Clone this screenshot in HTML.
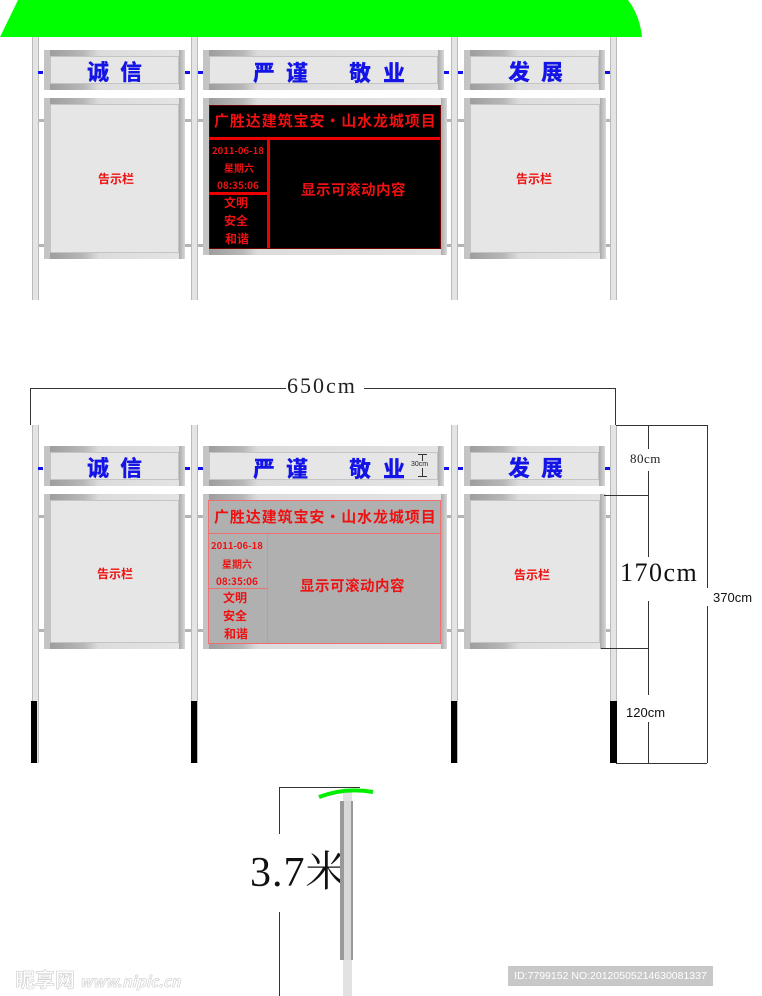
<!DOCTYPE html>
<html><head><meta charset="utf-8"><style>
*{margin:0;padding:0;box-sizing:border-box}
body{width:762px;height:996px;background:#fff;position:relative;overflow:hidden;font-family:"Liberation Sans","Noto Sans CJK SC",sans-serif}
.a{position:absolute}
.post{position:absolute;width:7px;background:#e4e4e4;border-left:1px solid #bbb;border-right:1px solid #bbb}
.rail{position:absolute;height:3px;background:#b4b4b4}
.dash{position:absolute;height:3px;width:5px;background:#1010e8}
.fr{position:absolute;background:linear-gradient(90deg,#999 0,#b8b8b8 40px,#dcdcdc 55px,#e4e4e4 100%)}
.fr .face{position:absolute;left:6px;right:6px;top:6px;bottom:6px;background:#e6e6e6;border:1px solid #c4c4c4}
.fr .sl{position:absolute;left:0;top:0;bottom:0;width:6px;background:#c4c4c4}
.fr .sr{position:absolute;right:0;top:0;bottom:0;width:6px;background:linear-gradient(90deg,#aaa,#d8d8d8)}
.ht{position:absolute;color:#1414e6;font-weight:900;font-size:22px;font-family:"Noto Sans CJK SC",sans-serif;line-height:1;white-space:nowrap}
.red{position:absolute;color:#ee1111;font-weight:bold;font-family:"Noto Sans CJK SC",sans-serif;line-height:1;white-space:nowrap}
.dl{position:absolute;background:#333}
</style></head><body>

<svg class="a" style="left:0;top:0" width="650" height="40"><path d="M18 0 L628 0 Q640 16 642 37 L0 37 L18 0 Z" fill="#00ff00"/></svg>

<!-- ===== diagram 1 ===== -->
<div class="rail" style="left:32px;top:119px;width:585px"></div>
<div class="rail" style="left:32px;top:244px;width:585px"></div>
<div class="post" style="left:32px;top:37px;height:263px"></div>
<div class="post" style="left:191px;top:37px;height:263px"></div>
<div class="post" style="left:451px;top:37px;height:263px"></div>
<div class="post" style="left:610px;top:37px;height:263px"></div>
<div class="dash" style="left:38px;top:71px"></div>
<div class="dash" style="left:185px;top:71px"></div><div class="dash" style="left:198px;top:71px"></div>
<div class="dash" style="left:444px;top:71px"></div><div class="dash" style="left:458px;top:71px"></div>
<div class="dash" style="left:605px;top:71px"></div>

<div class="fr" style="left:44px;top:50px;width:141px;height:40px"><div class="sl"></div><div class="sr"></div><div class="face"></div></div>
<div class="ht" style="left:87px;top:60px">诚</div><div class="ht" style="left:120px;top:60px">信</div>
<div class="fr" style="left:203px;top:50px;width:241px;height:40px"><div class="sl"></div><div class="sr"></div><div class="face"></div></div>
<div class="ht" style="left:253px;top:61px">严</div><div class="ht" style="left:286px;top:61px">谨</div><div class="ht" style="left:349px;top:61px">敬</div><div class="ht" style="left:383px;top:61px">业</div>
<div class="fr" style="left:464px;top:50px;width:141px;height:40px"><div class="sl"></div><div class="sr"></div><div class="face"></div></div>
<div class="ht" style="left:508px;top:60px">发</div><div class="ht" style="left:541px;top:60px">展</div>

<div class="fr" style="left:44px;top:98px;width:141px;height:161px"><div class="sl"></div><div class="sr"></div><div class="face"></div></div>
<div class="red" style="left:98px;top:173px;font-size:12px">告示栏</div>
<div class="fr" style="left:464px;top:98px;width:142px;height:161px"><div class="sl"></div><div class="sr"></div><div class="face"></div></div>
<div class="red" style="left:516px;top:173px;font-size:12px">告示栏</div>

<div class="fr" style="left:203px;top:98px;width:244px;height:157px"><div class="sl"></div><div class="sr"></div></div>
<div class="a" style="left:209px;top:105px;width:232px;height:144px;background:#000;border:1px solid #600"></div>
<div class="a" style="left:209px;top:137px;width:231px;height:3px;background:#e00"></div>
<div class="a" style="left:267px;top:139px;width:3px;height:109px;background:#e00"></div>
<div class="a" style="left:209px;top:192px;width:59px;height:3px;background:#e00"></div>
<div class="red" style="left:214px;top:113px;font-size:15px;letter-spacing:0.9px">广胜达建筑宝安·山水龙城项目</div>
<div class="red" style="left:212px;top:146px;font-size:9.5px">2011-06-18</div>
<div class="red" style="left:224px;top:163px;font-size:10px">星期六</div>
<div class="red" style="left:217px;top:180px;font-size:10px">08:35:06</div>
<div class="red" style="left:224px;top:197px;font-size:12px">文明</div>
<div class="red" style="left:224px;top:215px;font-size:12px">安全</div>
<div class="red" style="left:225px;top:233px;font-size:12px">和谐</div>
<div class="red" style="left:301px;top:183px;font-size:14.5px;letter-spacing:0.5px">显示可滚动内容</div>

<!-- ===== diagram 2 ===== -->
<div class="dl" style="left:30px;top:388px;width:256px;height:1px"></div>
<div class="dl" style="left:364px;top:388px;width:252px;height:1px"></div>
<div class="dl" style="left:30px;top:388px;width:1px;height:37px"></div>
<div class="dl" style="left:615px;top:388px;width:1px;height:37px"></div>
<div class="a" style="left:287px;top:373px;font-family:'Liberation Serif',serif;font-size:22px;letter-spacing:2px;color:#222">650cm</div>

<div class="rail" style="left:32px;top:515px;width:585px"></div>
<div class="rail" style="left:32px;top:629px;width:585px"></div>
<div class="post" style="left:32px;top:425px;height:338px"></div>
<div class="post" style="left:191px;top:425px;height:338px"></div>
<div class="post" style="left:451px;top:425px;height:338px"></div>
<div class="post" style="left:610px;top:425px;height:338px"></div>
<div class="a" style="left:31px;top:701px;width:6px;height:62px;background:#000"></div>
<div class="a" style="left:191px;top:701px;width:6px;height:62px;background:#000"></div>
<div class="a" style="left:451px;top:701px;width:6px;height:62px;background:#000"></div>
<div class="a" style="left:610px;top:701px;width:7px;height:62px;background:#000"></div>
<div class="dash" style="left:38px;top:467px"></div>
<div class="dash" style="left:185px;top:467px"></div><div class="dash" style="left:198px;top:467px"></div>
<div class="dash" style="left:444px;top:467px"></div><div class="dash" style="left:458px;top:467px"></div>
<div class="dash" style="left:605px;top:467px"></div>

<div class="fr" style="left:44px;top:446px;width:141px;height:40px"><div class="sl"></div><div class="sr"></div><div class="face"></div></div>
<div class="ht" style="left:87px;top:456px">诚</div><div class="ht" style="left:120px;top:456px">信</div>
<div class="fr" style="left:203px;top:446px;width:241px;height:40px"><div class="sl"></div><div class="sr"></div><div class="face"></div></div>
<div class="ht" style="left:253px;top:457px">严</div><div class="ht" style="left:286px;top:457px">谨</div><div class="ht" style="left:349px;top:457px">敬</div><div class="ht" style="left:383px;top:457px">业</div>
<div class="dl" style="left:422px;top:454px;width:1px;height:22px"></div>
<div class="dl" style="left:418px;top:454px;width:9px;height:1px"></div>
<div class="dl" style="left:418px;top:476px;width:9px;height:1px"></div>
<div class="a" style="left:411px;top:461px;font-size:7px;background:#e6e6e6;color:#222">30cm</div>
<div class="fr" style="left:464px;top:446px;width:141px;height:40px"><div class="sl"></div><div class="sr"></div><div class="face"></div></div>
<div class="ht" style="left:508px;top:456px">发</div><div class="ht" style="left:541px;top:456px">展</div>

<div class="fr" style="left:44px;top:494px;width:141px;height:155px"><div class="sl"></div><div class="sr"></div><div class="face"></div></div>
<div class="red" style="left:97px;top:568px;font-size:12px">告示栏</div>
<div class="fr" style="left:464px;top:494px;width:142px;height:155px"><div class="sl"></div><div class="sr"></div><div class="face"></div></div>
<div class="red" style="left:514px;top:569px;font-size:12px">告示栏</div>

<div class="fr" style="left:203px;top:494px;width:244px;height:155px"><div class="sl"></div><div class="sr"></div></div>
<div class="a" style="left:208px;top:500px;width:233px;height:144px;background:#b0b0b0;border:1px solid #f07070"></div>
<div class="a" style="left:208px;top:533px;width:233px;height:1px;background:#f07070"></div>
<div class="a" style="left:267px;top:534px;width:1px;height:109px;background:#e88"></div>
<div class="a" style="left:208px;top:588px;width:60px;height:1px;background:#f07070"></div>
<div class="red" style="left:214px;top:509px;font-size:15px;letter-spacing:0.9px">广胜达建筑宝安·山水龙城项目</div>
<div class="red" style="left:211px;top:541px;font-size:9.5px">2011-06-18</div>
<div class="red" style="left:222px;top:559px;font-size:10px">星期六</div>
<div class="red" style="left:216px;top:576px;font-size:10px">08:35:06</div>
<div class="red" style="left:223px;top:592px;font-size:12px">文明</div>
<div class="red" style="left:223px;top:610px;font-size:12px">安全</div>
<div class="red" style="left:224px;top:628px;font-size:12px">和谐</div>
<div class="red" style="left:300px;top:579px;font-size:14.5px;letter-spacing:0.5px">显示可滚动内容</div>

<!-- right dims -->
<div class="dl" style="left:616px;top:425px;width:91px;height:1px"></div>
<div class="dl" style="left:616px;top:763px;width:91px;height:1px"></div>
<div class="dl" style="left:707px;top:425px;width:1px;height:163px"></div>
<div class="dl" style="left:707px;top:606px;width:1px;height:157px"></div>
<div class="a" style="left:713px;top:590px;font-size:13px;color:#111">370cm</div>
<div class="dl" style="left:648px;top:425px;width:1px;height:24px"></div>
<div class="dl" style="left:648px;top:471px;width:1px;height:86px"></div>
<div class="dl" style="left:648px;top:601px;width:1px;height:94px"></div>
<div class="dl" style="left:648px;top:722px;width:1px;height:41px"></div>
<div class="dl" style="left:604px;top:495px;width:44px;height:1px"></div>
<div class="dl" style="left:601px;top:648px;width:47px;height:1px"></div>
<div class="a" style="left:630px;top:451px;font-family:'Liberation Serif',serif;font-size:13px;letter-spacing:0.5px;color:#222">80cm</div>
<div class="a" style="left:620px;top:558px;font-family:'Liberation Serif',serif;font-size:26px;letter-spacing:1.5px;color:#111">170cm</div>
<div class="a" style="left:626px;top:705px;font-size:13px;color:#111">120cm</div>

<!-- bottom side view -->
<div class="dl" style="left:279px;top:787px;width:81px;height:1px"></div>
<div class="dl" style="left:279px;top:787px;width:1px;height:47px"></div>
<div class="dl" style="left:279px;top:912px;width:1px;height:84px"></div>
<div class="a" style="left:250px;top:852px;font-family:'Liberation Serif','Noto Serif CJK SC',serif;font-size:42px;letter-spacing:1px;color:#111;line-height:1">3.7米</div>
<div class="a" style="left:343px;top:790px;width:9px;height:206px;background:#e2e2e2"></div>
<div class="a" style="left:340px;top:801px;width:13px;height:159px;background:#999"></div>
<div class="a" style="left:344px;top:801px;width:7px;height:159px;background:#d8d8d8"></div>
<svg class="a" style="left:315px;top:785px" width="62" height="16"><path d="M4 12 Q30 2 58 7" stroke="#00ee00" stroke-width="4" fill="none"/></svg>

<!-- watermarks -->
<div class="a" style="left:15px;top:964px;font-size:20px;color:#fff;font-weight:bold;-webkit-text-stroke:0.6px #ccc;font-family:'Noto Sans CJK SC',sans-serif;white-space:nowrap">昵享网 <span style="font-size:15px;font-style:italic">www.nipic.cn</span></div>
<div class="a" style="left:508px;top:966px;width:205px;height:20px;background:#c8c8c8;color:#fff;font-size:10.5px;line-height:20px;text-align:center;white-space:nowrap;overflow:hidden">ID:7799152 NO:20120505214630081337</div>
</body></html>
